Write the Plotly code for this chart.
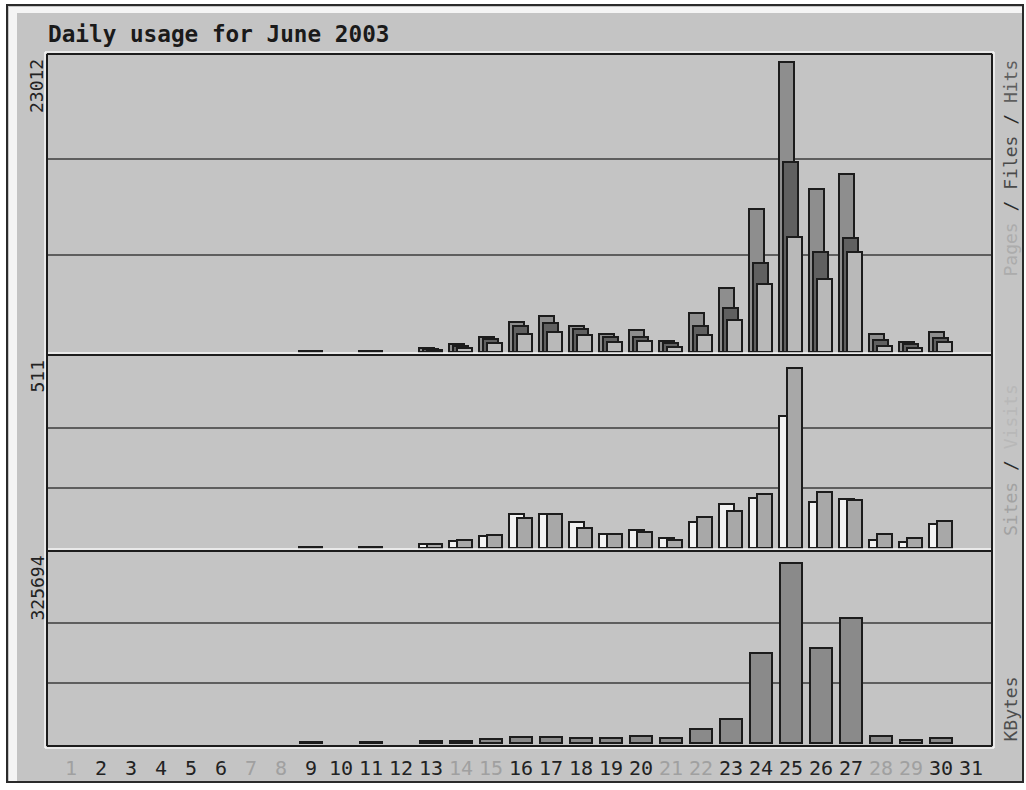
import plotly.graph_objects as go

# ---- data: Webalizer daily usage, June 2003 ----
days = list(range(1, 32))
hits = [0, 0, 0, 0, 0, 0, 0, 0, 110, 0, 110, 0, 320, 600, 1200, 2400, 2860, 2090, 1430, 1750,
        900, 3070, 5100, 11350, 23012, 12910, 14120, 1450, 790, 1590, 0]
files = [0, 0, 0, 0, 0, 0, 0, 0, 90, 0, 90, 0, 240, 450, 1020, 2060, 2280, 1800, 1160, 1220,
         690, 2090, 3520, 7040, 15080, 7960, 9020, 950, 610, 1090, 0]
pages = [0, 0, 0, 0, 0, 0, 0, 0, 70, 0, 70, 0, 160, 340, 720, 1400, 1590, 1320, 790, 900,
         420, 1350, 2540, 5370, 9150, 5790, 7910, 500, 290, 770, 0]
visits = [0, 0, 0, 0, 0, 0, 0, 0, 2, 0, 2, 0, 10, 20, 35, 97, 97, 74, 41, 50,
          28, 73, 126, 142, 376, 131, 140, 24, 18, 68, 0]
sites = [0, 0, 0, 0, 0, 0, 0, 0, 2, 0, 2, 0, 11, 24, 36, 86, 97, 57, 41, 45,
         24, 89, 104, 153, 511, 158, 135, 41, 28, 78, 0]
kbytes = [0, 0, 0, 0, 0, 0, 0, 0, 2500, 0, 2500, 0, 3500, 4000, 7500, 11500, 11000, 8500, 9000, 12000,
          8500, 26000, 42900, 162800, 325694, 172600, 225600, 13000, 6000, 8500, 0]
weekend_days = [1, 7, 8, 14, 15, 21, 22, 28, 29]

title_text = "Daily usage for June 2003"

W, H = 1026, 790
L, R = 47, 992            # plot area left / right (px)

def px(x):
    return x / W

def py(y):
    return 1 - y / H

def nz(vals):
    return [v if v else None for v in vals]

# panel geometry: (domain top, domain bottom, baseline, y of max value, max value)
panels = [
    (56, 353, 352, 62, max(hits + files + pages)),
    (357, 549, 548, 368, max(visits + sites)),
    (553, 744, 743, 563, max(kbytes)),
]

BG = "#c4c4c4"
EDGE = "#1c1c1c"
GRID = "#5e5e5e"

fig = go.Figure()

def add_bar(vals, axis_idx, color, offset, width):
    sfx = "" if axis_idx == 1 else str(axis_idx)
    fig.add_trace(go.Bar(
        x=days, y=nz(vals), xaxis="x" + sfx, yaxis="y" + sfx,
        offset=offset, width=width,
        marker=dict(color=color, line=dict(color=EDGE, width=2)),
        showlegend=False, hoverinfo="x+y",
    ))

# Pages / Files / Hits
add_bar(hits, 1, "#8e8e8e", -0.40, 0.50)
add_bar(files, 1, "#606060", -0.27, 0.50)
add_bar(pages, 1, "#b9b9b9", -0.13, 0.50)
# Sites / Visits
add_bar(visits, 2, "#f2f2f2", -0.40, 0.50)
add_bar(sites, 2, "#a8a8a8", -0.13, 0.50)
# KBytes
add_bar(kbytes, 3, "#8a8a8a", -0.37, 0.73)

layout = dict(
    width=W, height=H, margin=dict(l=0, r=0, t=0, b=0),
    paper_bgcolor="white", plot_bgcolor="rgba(0,0,0,0)",
    barmode="overlay", bargap=0, showlegend=False,
)

for i, (dtop, dbot, base, vtop, vmax) in enumerate(panels, start=1):
    sfx = "" if i == 1 else str(i)
    k = vmax / (base - vtop)
    layout["xaxis" + sfx] = dict(
        domain=[px(L), px(R)], range=[0.2, 31.7], anchor="y" + sfx,
        showgrid=False, zeroline=False, showticklabels=False, ticks="", fixedrange=True,
    )
    layout["yaxis" + sfx] = dict(
        domain=[py(dbot), py(dtop)], range=[-(dbot - base) * k, (base - dtop) * k],
        anchor="x" + sfx, tickvals=[vmax / 3, 2 * vmax / 3], showticklabels=False,
        showgrid=True, gridcolor=GRID, gridwidth=1.6, zeroline=False, ticks="", fixedrange=True,
    )

fig.update_layout(**layout)

shapes = []

def rect(x0, y0, x1, y1, fill, layer="below"):
    shapes.append(dict(type="rect", xref="paper", yref="paper",
                       x0=px(x0), x1=px(x1), y0=py(y1), y1=py(y0),
                       fillcolor=fill, line=dict(width=0), layer=layer))

def hline(y, x0, x1, color, w=2):
    shapes.append(dict(type="line", xref="paper", yref="paper",
                       x0=px(x0), x1=px(x1), y0=py(y), y1=py(y),
                       line=dict(color=color, width=w), layer="above"))

def vline(x, y0, y1, color, w=2):
    shapes.append(dict(type="line", xref="paper", yref="paper",
                       x0=px(x), x1=px(x), y0=py(y0), y1=py(y1),
                       line=dict(color=color, width=w), layer="above"))

# outer frame
rect(7, 5, 1023, 782, BG)
rect(9, 7, 17, 781, "#f4f4f4")
rect(9, 7, 1022, 13, "#f4f4f4")
hline(5, 6, 1024, "#2a2a2a", 2)
hline(782, 6, 1024, "#2a2a2a", 2)
vline(7, 4, 783, "#2a2a2a", 2)
vline(1023, 4, 783, "#2a2a2a", 2)

# plot area: white rim outside a dark edge, separators between panels
T, S1, S2, B = 54, 355, 551, 746
hline(T - 2, L - 2, R + 2, "#f6f6f6", 1.5)
vline(L - 2, T - 2, B + 2, "#f6f6f6", 1.5)
vline(R + 2, T - 2, B + 2, "#f6f6f6", 1.5)
hline(B + 2, L - 2, R + 2, "#f6f6f6", 1.5)
hline(S1 - 2, L, R, "#f6f6f6", 1.5)
hline(S2 - 2, L, R, "#f6f6f6", 1.5)
hline(T, L, R, EDGE, 2)
hline(S1, L, R, EDGE, 2)
hline(S2, L, R, EDGE, 2)
hline(B, L, R, EDGE, 2)
vline(L, T, B, EDGE, 2)
vline(R, T, B, EDGE, 2)

fig.update_layout(shapes=shapes)

MONO = "DejaVu Sans Mono"
ann = []

ann.append(dict(text=title_text, xref="paper", yref="paper", x=px(46), y=py(34),
                xanchor="left", yanchor="middle", showarrow=False,
                font=dict(family=MONO, size=22.7, color="#1a1a1a", weight="bold")))

# max-value labels on the left
for (dtop, dbot, base, vtop, vmax) in panels:
    ann.append(dict(text=str(vmax), xref="paper", yref="paper", x=px(37), y=py(dtop + 1),
                    xanchor="center", yanchor="top", textangle=-90, showarrow=False,
                    font=dict(family=MONO, size=18, color="#222222")))

# series labels on the right
sep = '<span style="color:#2a2a2a"> / </span>'
right_labels = [
    ('<span style="color:#acacac">Pages</span>' + sep +
     '<span style="color:#4a4a4a">Files</span>' + sep +
     '<span style="color:#5e5e5e">Hits</span>', 58, "top"),
    ('<span style="color:#a2a2a2">Sites</span>' + sep +
     '<span style="color:#b8b8b8">Visits</span>', 460, "middle"),
    ('<span style="color:#4e4e4e">KBytes</span>', 744, "bottom"),
]
for txt, ypx, anc in right_labels:
    ann.append(dict(text=txt, xref="paper", yref="paper", x=px(1010), y=py(ypx),
                    xanchor="center", yanchor=anc, textangle=-90, showarrow=False,
                    font=dict(family=MONO, size=18)))

# day numbers along the bottom
for d in days:
    ann.append(dict(text=str(d), xref="x3", yref="paper", x=d, y=py(768),
                    xanchor="center", yanchor="middle", showarrow=False,
                    font=dict(family=MONO, size=20,
                              color="#a0a0a0" if d in weekend_days else "#222222")))

fig.update_layout(annotations=ann)

fig.write_html("out.html")
